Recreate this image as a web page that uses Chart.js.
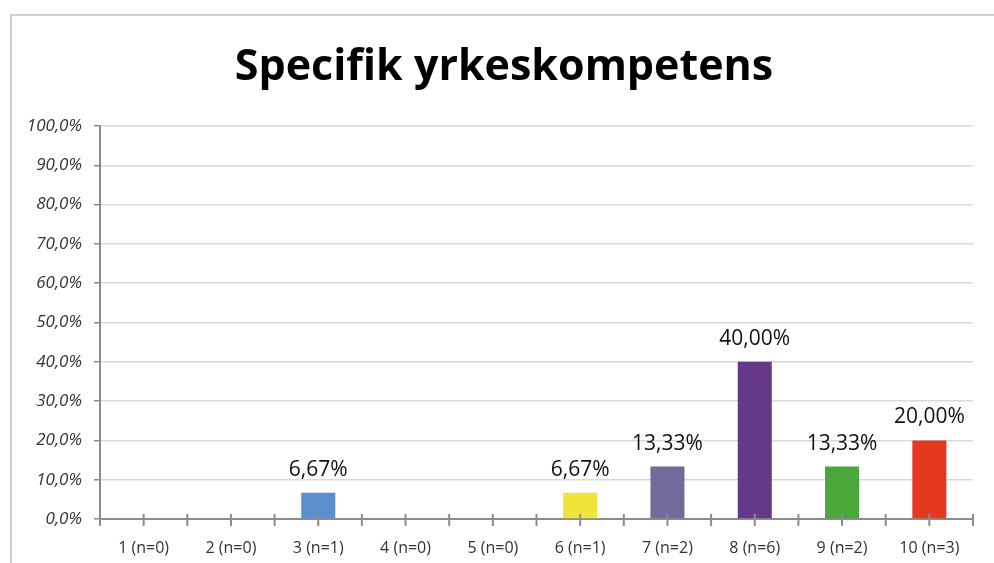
<!DOCTYPE html>
<html>
<head>
<meta charset="utf-8">
<script src="https://cdn.jsdelivr.net/npm/chart.js@4/dist/chart.umd.min.js"></script>
<style>
  body { margin: 0; background: #fff; }
  #frame { position: absolute; left: 10px; top: 14px; width: 1100px; height: 700px;
           border: 2px solid #cfcfcf; }
  #myChart { position: absolute; left: 0; top: 0; }
</style>
</head>
<body>
<div id="frame"></div>
<canvas id="myChart" width="994" height="563"></canvas>
<script>
const chartTitle = 'Specifik yrkeskompetens';
const categories = ['1 (n=0)', '2 (n=0)', '3 (n=1)', '4 (n=0)', '5 (n=0)',
  '6 (n=1)', '7 (n=2)', '8 (n=6)', '9 (n=2)', '10 (n=3)'];
const percentages = [0, 0, 6.67, 0, 0, 6.67, 13.33, 40, 13.33, 20];
const barColors = [
  'rgb(91,143,207)', 'rgb(91,143,207)', 'rgb(91,143,207)', 'rgb(91,143,207)', 'rgb(91,143,207)',
  'rgb(240,228,58)', 'rgb(112,107,155)', 'rgb(101,56,138)', 'rgb(74,168,58)', 'rgb(228,57,30)'
];
const axisGray = '#8c8c8c';

const fmt = (v, d) => v.toFixed(d).replace('.', ',') + '%';

// title, a bit right of the canvas centre like the original
const titlePlugin = {
  id: 'titlePlugin',
  afterDraw(chart) {
    const c = chart.ctx;
    c.save();
    c.font = 'bold 43px "Open Sans"';
    c.fillStyle = '#000';
    c.textAlign = 'center';
    c.textBaseline = 'middle';
    c.fillText(chartTitle, chart.width / 2 + 7, 68);
    c.restore();
  }
};

// value labels over the bars
const barLabels = {
  id: 'barLabels',
  afterDatasetsDraw(chart) {
    const c = chart.ctx;
    const meta = chart.getDatasetMeta(0);
    c.save();
    c.font = '21px "Open Sans"';
    c.fillStyle = '#111';
    c.textAlign = 'center';
    c.textBaseline = 'alphabetic';
    meta.data.forEach((bar, i) => {
      if (percentages[i] > 0) c.fillText(fmt(percentages[i], 2), bar.x, bar.y - 17);
    });
    c.restore();
  }
};

// small tick marks on the category axis (boundaries and centres)
const xTicks = {
  id: 'xTicks',
  afterDraw(chart) {
    const x = chart.scales.x;
    const c = chart.ctx;
    const bottom = chart.chartArea.bottom;
    const half = (x.getPixelForValue(1) - x.getPixelForValue(0)) / 2;
    c.save();
    c.strokeStyle = axisGray;
    c.lineWidth = 2;
    c.beginPath();
    for (let i = 0; i < categories.length; i++) {
      const px = x.getPixelForValue(i);
      [px - half, px].forEach(p => { c.moveTo(p, bottom - 5); c.lineTo(p, bottom + 7); });
    }
    const last = x.getPixelForValue(categories.length - 1) + half;
    c.moveTo(last, bottom - 5); c.lineTo(last, bottom + 7);
    c.stroke();
    c.restore();
  }
};

const ctx = document.querySelector('#myChart');
/* eslint-disable no-unused-vars */
const myChart = new Chart(ctx, {
  type: 'bar',
  data: {
    labels: categories,
    datasets: [{
      data: percentages,
      backgroundColor: barColors,
      barPercentage: 0.39,
      categoryPercentage: 1
    }]
  },
  options: {
    responsive: false,
    animation: false,
    layout: { padding: { left: 0, right: 21, top: 126, bottom: 0 } },
    plugins: {
      legend: { display: false },
      tooltip: { enabled: false },
      title: { display: false }
    },
    scales: {
      x: {
        grid: { drawOnChartArea: false, drawTicks: false },
        border: { display: true, color: axisGray, width: 2 },
        ticks: { color: '#333', font: { family: '"Open Sans"', size: 16 }, padding: 20, maxRotation: 0 },
        afterFit: s => { s.height = 44; }
      },
      y: {
        min: 0,
        max: 100,
        grid: { color: '#d9d9d9', lineWidth: 1.5, tickLength: 6, tickColor: axisGray },
        border: { display: true, color: axisGray, width: 2 },
        ticks: {
          stepSize: 10,
          color: '#333',
          padding: 12,
          font: { family: '"Open Sans"', size: 17, style: 'italic' },
          callback: v => fmt(v, 1)
        },
        afterFit: s => { s.width = 100; }
      }
    }
  },
  plugins: [barLabels, xTicks, titlePlugin]
});
</script>
</body>
</html>
